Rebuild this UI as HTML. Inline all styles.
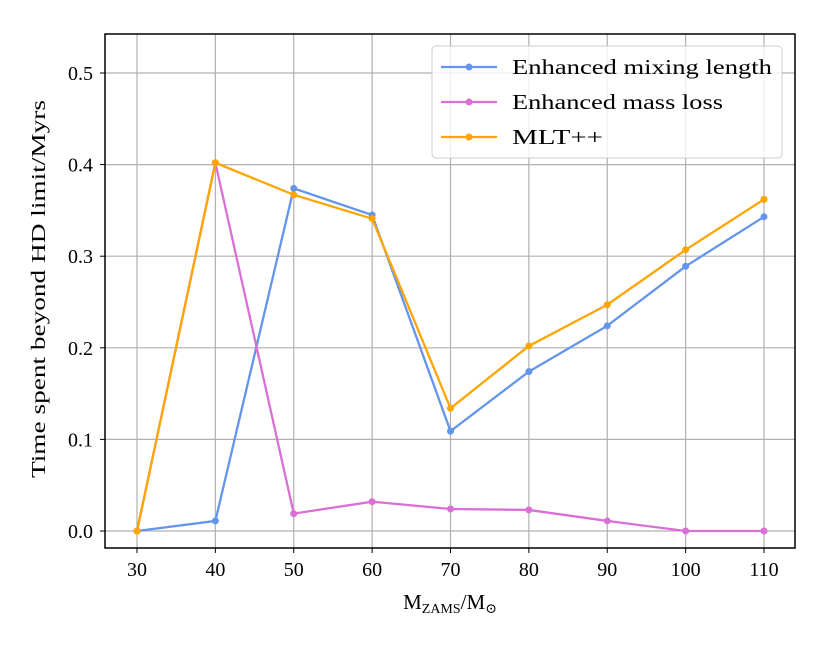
<!DOCTYPE html>
<html><head><meta charset="utf-8"><style>
body{margin:0;background:#fff}
text{font-family:"Liberation Serif","DejaVu Serif",serif;fill:#000}
</style></head><body>
<svg id="chart" width="830" height="645" xmlns="http://www.w3.org/2000/svg">
<g id="grid"></g>
<g id="series"></g>
<rect x="105" y="34" width="690" height="514" fill="none" stroke="#000" stroke-width="1.5"/>
<g id="ticks"></g>
<text x="450" y="609" text-anchor="middle" font-size="21">M<tspan font-size="14" dy="4">ZAMS</tspan><tspan dy="-4">/M</tspan><tspan font-size="14" dy="4">⊙</tspan></text>
<text transform="translate(45,289) rotate(-90)" text-anchor="middle" font-size="20" textLength="378" lengthAdjust="spacingAndGlyphs">Time spent beyond HD limit/Myrs</text>
<g>
<rect x="432" y="46" width="350" height="112" rx="4" fill="#fff" fill-opacity="0.8" stroke="#ccc"/>
<g id="legend-items"></g>
</g>
</svg>
<script>
const masses=[30,40,50,60,70,80,90,100,110];
const mixing=[0,0.011,0.374,0.345,0.109,0.174,0.224,0.289,0.343];
const massLoss=[0,0.402,0.019,0.032,0.024,0.023,0.011,0,0];
const mltpp=[0,0.402,0.367,0.341,0.134,0.202,0.247,0.307,0.362];
const xTicks=[30,40,50,60,70,80,90,100,110];
const yTicks=[0,0.1,0.2,0.3,0.4,0.5];
const names=["Enhanced mixing length","Enhanced mass loss","MLT++"];
const colors=["#6495ED","#DA70D6","#FFA500"];
const legendW=[260,211,91];
const NS="http://www.w3.org/2000/svg";
const X=v=>137+(v-30)*(764-137)/80;
const Y=v=>531-v*916;
function mk(tag,attrs,parent){const e=document.createElementNS(NS,tag);for(const k in attrs)e.setAttribute(k,attrs[k]);parent.appendChild(e);return e;}
const grid=document.getElementById('grid'),ticks=document.getElementById('ticks');
xTicks.forEach(t=>{
 const l=mk('line',{x1:X(t),x2:X(t),y1:34,y2:548,stroke:'#b0b0b0','stroke-width':1.2},grid);
 
 
 const tk=mk('line',{x1:X(t),x2:X(t),y1:548,y2:553,stroke:'#000'},ticks);
 
 
 const tx=mk('text',{x:X(t),y:576,'text-anchor':'middle','font-size':20},ticks);tx.textContent=t;
 
 
});
yTicks.forEach(t=>{
 const l=mk('line',{x1:105,x2:795,y1:Y(t),y2:Y(t),stroke:'#b0b0b0','stroke-width':1.2},grid);
 
 
 const tk=mk('line',{x1:100,x2:105,y1:Y(t),y2:Y(t),stroke:'#000'},ticks);
 
 
 const tx=mk('text',{x:93,y:Y(t)+7,'text-anchor':'end','font-size':20},ticks);tx.textContent=t.toFixed(1);
 
 
});
const ser=document.getElementById('series');
[mixing,massLoss,mltpp].forEach((d,i)=>{
 const g=mk('g',{},ser);
 
 
 const pl=mk('polyline',{points:d.map((v,j)=>X(masses[j])+','+Y(v)).join(' '),fill:'none',stroke:colors[i],'stroke-width':2.3},g);
 
 
 d.forEach((v,j)=>{const c=mk('circle',{cx:X(masses[j]),cy:Y(v),r:3.5,fill:colors[i]},g);
  
  });
});
const li=document.getElementById('legend-items');
names.forEach((n,i)=>{
 const y=67+i*35;
 const g=mk('g',{},li);
 
 
 mk('line',{x1:441,x2:497,y1:y,y2:y,stroke:colors[i],'stroke-width':2.3},g);
 mk('circle',{cx:469,cy:y,r:3.5,fill:colors[i]},g);
 const t=mk('text',{x:512,y:y+7,'font-size':21,textLength:legendW[i],lengthAdjust:'spacingAndGlyphs'},g);t.textContent=n;
});
</script>
</body></html>
